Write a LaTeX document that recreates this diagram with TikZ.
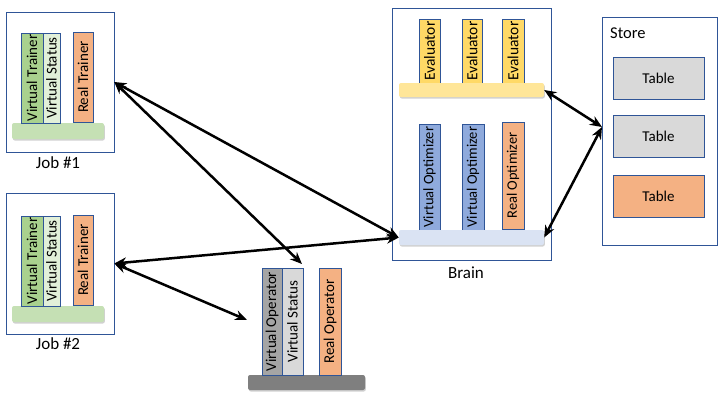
\documentclass[tikz,border=0pt]{standalone}
\usepackage{fontspec}
\setmainfont{Carlito}
\usetikzlibrary{arrows.meta,shadows}
\definecolor{bordc}{HTML}{2F5597}
\definecolor{vtrain}{HTML}{A9D18E}
\definecolor{vstat}{HTML}{E2F0D9}
\definecolor{realc}{HTML}{F4B183}
\definecolor{gbar}{HTML}{C5E0B4}
\definecolor{vop}{HTML}{A5A5A5}
\definecolor{vopst}{HTML}{D9D9D9}
\definecolor{opbar}{HTML}{7F7F7F}
\definecolor{evalc}{HTML}{FFD966}
\definecolor{ebarc}{HTML}{FFE699}
\definecolor{voptc}{HTML}{8FAADC}
\definecolor{obarc}{HTML}{DAE3F3}
\definecolor{tabc}{HTML}{D9D9D9}
\tikzset{
  col/.style={draw=bordc, line width=0.6pt, inner sep=0pt, rotate=90, font=\fontsize{15}{15}\selectfont},
  colsm/.style={col, font=\fontsize{14.5}{14.5}\selectfont},
  colev/.style={col, font=\fontsize{15.5}{15.5}\selectfont},
  basebar/.style={rounded corners=2pt, inner sep=0pt, drop shadow={shadow xshift=0.8pt, shadow yshift=-1.5pt, fill=black!30, opacity=0.6}},
  frame/.style={draw=bordc, line width=0.6pt, inner sep=0pt},
  tbl/.style={draw=bordc, line width=0.6pt, inner sep=0pt, minimum width=91pt, minimum height=42pt, font=\fontsize{15}{15}\selectfont},
  lbl/.style={font=\fontsize{17}{17}\selectfont, inner sep=0pt},
  conn/.style={{Stealth[length=12pt,width=10pt]}-{Stealth[length=12pt,width=10pt]}, line width=2.5pt, black}
}
\begin{document}
\begin{tikzpicture}[x=1pt,y=-1pt]
\useasboundingbox (0,0) rectangle (720,405);
% Job 1
\node[frame, minimum width=108pt, minimum height=140pt] (job1) at (60,82) {};
\node[basebar, fill=gbar, minimum width=92pt, minimum height=16pt] (j1bar) at (58,131) {};
\node[col, fill=vtrain, minimum width=90pt, minimum height=22pt] (j1vt) at (32,78) {Virtual Trainer};
\node[col, fill=vstat, minimum width=90pt, minimum height=17pt] (j1vs) at (51.5,78) {Virtual Status};
\node[col, fill=realc, minimum width=90pt, minimum height=20pt] (j1rt) at (83,77) {Real Trainer};
\node[lbl] (j1lbl) at (58,163) {Job \#1};
% Job 2
\node[frame, minimum width=108pt, minimum height=141pt] (job2) at (60,263.5) {};
\node[basebar, fill=gbar, minimum width=92pt, minimum height=16pt] (j2bar) at (58,314) {};
\node[col, fill=vtrain, minimum width=90pt, minimum height=22pt] (j2vt) at (32,261) {Virtual Trainer};
\node[col, fill=vstat, minimum width=90pt, minimum height=17pt] (j2vs) at (51.5,261) {Virtual Status};
\node[col, fill=realc, minimum width=90pt, minimum height=20pt] (j2rt) at (83,260) {Real Trainer};
\node[lbl] (j2lbl) at (58,344) {Job \#2};
% Operator
\node[basebar, fill=opbar, minimum width=117pt, minimum height=15pt] (opbar) at (306.5,382.5) {};
\node[col, fill=vop, minimum width=107pt, minimum height=20pt] (opvo) at (272,321.5) {Virtual Operator};
\node[col, fill=vopst, minimum width=107pt, minimum height=21pt] (opvs) at (292.5,321.5) {Virtual Status};
\node[col, fill=realc, minimum width=107pt, minimum height=22pt] (opro) at (330,321.5) {Real Operator};
% Brain
\node[frame, minimum width=159pt, minimum height=252pt] (brain) at (471.5,134) {};
\node[colev, fill=evalc, minimum width=64pt, minimum height=21pt] (ev1) at (429.5,51) {Evaluator};
\node[colev, fill=evalc, minimum width=64pt, minimum height=20pt] (ev2) at (472,51) {Evaluator};
\node[colev, fill=evalc, minimum width=64pt, minimum height=22pt] (ev3) at (513,51) {Evaluator};
\node[basebar, fill=ebarc, minimum width=145pt, minimum height=14pt] (ebar) at (471.5,90) {};
\node[colsm, fill=voptc, minimum width=106pt, minimum height=21pt] (vo1) at (429.5,177) {Virtual Optimizer};
\node[colsm, fill=voptc, minimum width=106pt, minimum height=22pt] (vo2) at (473,177) {Virtual Optimizer};
\node[colsm, fill=realc, minimum width=107pt, minimum height=22pt] (ro) at (513,175.5) {Real Optimizer};
\node[basebar, fill=obarc, minimum width=145pt, minimum height=15pt] (obar) at (471.5,237.5) {};
\node[lbl] (brainlbl) at (466,273) {Brain};
% Store
\node[frame, minimum width=115pt, minimum height=228pt] (store) at (659.5,131) {};
\node[lbl, anchor=west, font=\fontsize{16.5}{16.5}\selectfont] (storelbl) at (610,33) {Store};
\node[tbl, fill=tabc] (t1) at (658.5,78) {Table};
\node[tbl, fill=tabc] (t2) at (658.5,136.5) {Table};
\node[tbl, fill=realc] (t3) at (658.5,196.5) {Table};
% connector ends
\coordinate (opin) at (302,264);
\coordinate (opleft) at (247,320);
\coordinate (storein) at (602,127);
% connectors
\draw[conn] (job1.east) -- (obar.west);
\draw[conn] (job1.east) -- (opin);
\draw[conn] (job2.east) -- (obar.west);
\draw[conn] (job2.east) -- (opleft);
\draw[conn] (ebar.east) -- (storein);
\draw[conn] (obar.east) -- (storein);
\end{tikzpicture}
\end{document}
